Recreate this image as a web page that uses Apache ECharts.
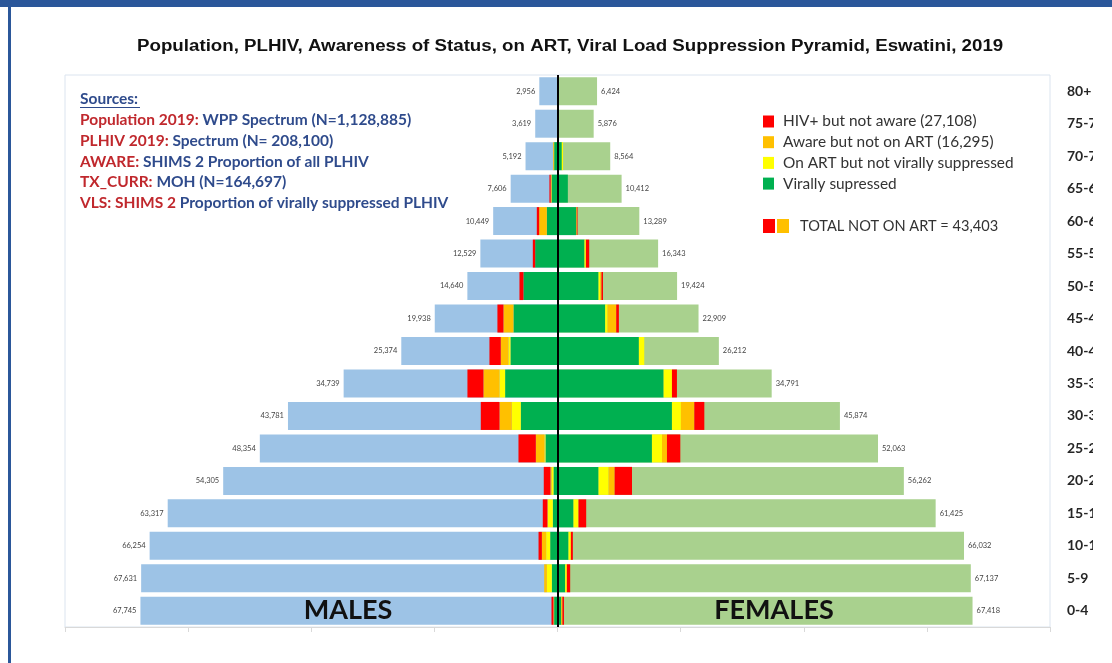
<!DOCTYPE html>
<html>
<head>
<meta charset="utf-8">
<script src="https://cdn.jsdelivr.net/npm/echarts@6/dist/echarts.min.js"></script>
<style>
  html, body { margin: 0; padding: 0; background: #fff; }
  #pyramid { width: 1112px; height: 663px; }
</style>
</head>
<body>
<div id="pyramid"></div>
<script>
// age groups, bottom to top
var ages = ['0-4', '5-9', '10-14', '15-19', '20-24', '25-29', '30-34', '35-39', '40-44',
  '45-49', '50-54', '55-59', '60-64', '65-69', '70-74', '75-79', '80+'];

var malePop = [67745, 67631, 66254, 63317, 54305, 48354, 43781, 34739, 25374, 19938, 14640, 12529, 10449, 7606, 5192, 3619, 2956];
var femalePop = [67418, 67137, 66032, 61425, 56262, 52063, 45874, 34791, 26212, 22909, 19424, 16343, 13289, 10412, 8564, 5876, 6424];

// PLHIV breakdown, centre outwards
var maleVls = [550, 920, 1190, 760, 650, 1950, 5960, 8510, 7640, 7150, 5530, 3630, 1730, 950, 540, 0, 0];
var maleOnArtNotVls = [100, 810, 650, 870, 300, 160, 1460, 920, 325, 0, 0, 0, 0, 0, 0, 0, 0];
var maleAwareNoArt = [0, 430, 700, 0, 200, 1410, 2000, 2600, 1250, 1630, 0, 0, 1250, 160, 160, 0, 0];
var maleNotAware = [325, 0, 540, 760, 1080, 2820, 3040, 2600, 1840, 980, 650, 380, 380, 200, 0, 0, 0];

var femaleVls = [600, 1250, 1790, 2600, 6670, 15340, 18590, 17240, 13220, 7750, 6670, 4390, 3030, 1680, 700, 0, 0];
var femaleOnArtNotVls = [0, 270, 380, 810, 1630, 1630, 1460, 1350, 870, 380, 270, 220, 0, 0, 200, 0, 0];
var femaleAwareNoArt = [200, 0, 0, 0, 980, 810, 2170, 0, 0, 1410, 200, 0, 100, 0, 0, 0, 0];
var femaleNotAware = [250, 540, 325, 1250, 2820, 2170, 1630, 810, 0, 430, 250, 540, 120, 0, 0, 0, 0];

var names = ['HIV+ but not aware (27,108)', 'Aware but not on ART (16,295)',
  'On ART but not virally suppressed', 'Virally supressed'];

var RED = '#ff0000', ORANGE = '#ffc000', YELLOW = '#ffff00', GREEN = '#00b050';
var BLUE_TXT = '#2f4b8c', RED_TXT = '#c0282d';

var myChart = echarts.init(document.getElementById('pyramid'));

function neg(arr) { return arr.map(function (v) { return -v; }); }
function fmt(p) { return Math.abs(p.value).toLocaleString('en-US'); }

function hivBar(name, stack, data, color) {
  return {
    name: name, type: 'bar', stack: stack, data: data,
    barWidth: 28, barGap: '-100%',
    itemStyle: { color: color },
    emphasis: { disabled: true }
  };
}

var sourceLines = [
  ['Population 2019:', ' WPP Spectrum (N=1,128,885)'],
  ['PLHIV 2019:', ' Spectrum (N= 208,100)'],
  ['AWARE:', ' SHIMS 2 Proportion of all PLHIV'],
  ['TX_CURR:', ' MOH (N=164,697)'],
  ['VLS: SHIMS 2', ' Proportion of virally suppressed PLHIV']
];

var graphics = [
  // slide frame
  { type: 'rect', shape: { x: 0, y: 0, width: 1112, height: 7 }, style: { fill: '#2b579a' }, z: 100 },
  { type: 'rect', shape: { x: 8, y: 0, width: 3, height: 663 }, style: { fill: '#2b579a' }, z: 100 },
  { type: 'rect', shape: { x: 1093, y: 7, width: 19, height: 656 }, style: { fill: '#fff' }, z: 99 },
  // title (stretched like the original narrow font)
  {
    type: 'text', x: 137, y: 47, scaleX: 1.17, z: 50,
    style: {
      text: 'Population, PLHIV, Awareness of Status, on ART, Viral Load Suppression Pyramid, Eswatini, 2019',
      fill: '#111', font: 'bold 16px "Liberation Sans"', verticalAlign: 'middle'
    }
  },
  // sources
  { type: 'text', x: 80, y: 99, style: { text: 'Sources:', fill: BLUE_TXT, font: 'bold 15.5px Lato', verticalAlign: 'middle' }, z: 50 },
  { type: 'rect', shape: { x: 80, y: 107, width: 60, height: 1 }, style: { fill: BLUE_TXT }, z: 50 },
  // sex labels
  { type: 'text', x: 348, y: 610, style: { text: 'MALES', fill: '#111', font: 'bold 27px Lato', align: 'center', verticalAlign: 'middle' }, z: 50 },
  { type: 'text', x: 774, y: 610, style: { text: 'FEMALES', fill: '#111', font: 'bold 27px Lato', align: 'center', verticalAlign: 'middle' }, z: 50 },
  // total not on ART
  { type: 'rect', shape: { x: 763, y: 219, width: 12, height: 14 }, style: { fill: RED }, z: 50 },
  { type: 'rect', shape: { x: 777, y: 219, width: 12, height: 14 }, style: { fill: ORANGE }, z: 50 },
  { type: 'text', x: 800, y: 226, style: { text: 'TOTAL NOT ON ART = 43,403', fill: '#333', font: '14.6px Lato', verticalAlign: 'middle' }, z: 50 }
];
sourceLines.forEach(function (l, i) {
  graphics.push({
    type: 'text', x: 80, y: 120 + i * 20.8, z: 50,
    style: {
      text: '{r|' + l[0] + '}{b|' + l[1] + '}', verticalAlign: 'middle',
      rich: {
        r: { fill: RED_TXT, font: 'bold 15.5px Lato' },
        b: { fill: BLUE_TXT, font: 'bold 15.5px Lato' }
      }
    }
  });
});

option = {
  backgroundColor: '#fff',
  animation: false,
  legend: {
    data: names,
    orient: 'vertical', left: 763, top: 113, padding: 0,
    icon: 'rect', itemWidth: 11, itemHeight: 12, itemGap: 3.7,
    selectedMode: false,
    textStyle: { fontFamily: 'Lato', fontSize: 15.4, lineHeight: 17, color: '#333', padding: [0, 0, 0, 4] }
  },
  grid: {
    left: 65, right: 62, top: 75, bottom: 36,
    show: true, borderColor: '#dbe4ef', borderWidth: 1
  },
  xAxis: {
    type: 'value', min: -80000, max: 80000, interval: 20000,
    axisLabel: { show: false },
    axisLine: { show: true, lineStyle: { color: '#d9d9d9' } },
    axisTick: { show: true, length: 5, lineStyle: { color: '#d9d9d9' } },
    splitLine: { show: false }
  },
  yAxis: {
    type: 'category', data: ages, position: 'right',
    axisLine: { show: false }, axisTick: { show: false },
    axisLabel: { margin: 17, align: 'left', fontFamily: 'Lato', fontWeight: 'bold', fontSize: 14, color: '#262626' }
  },
  graphic: graphics,
  series: [
    {
      name: 'Males', type: 'bar', data: neg(malePop), barWidth: 28, barGap: '-100%',
      itemStyle: { color: '#9dc3e6' }, emphasis: { disabled: true },
      label: { show: true, position: 'left', distance: 4, formatter: fmt, fontFamily: 'Lato', fontSize: 7.5, color: '#444' }
    },
    {
      name: 'Females', type: 'bar', data: femalePop, barWidth: 28, barGap: '-100%',
      itemStyle: { color: '#a9d18e' }, emphasis: { disabled: true },
      label: { show: true, position: 'right', distance: 4, formatter: fmt, fontFamily: 'Lato', fontSize: 7.5, color: '#444' }
    },
    hivBar(names[3], 'm', neg(maleVls), GREEN),
    hivBar(names[2], 'm', neg(maleOnArtNotVls), YELLOW),
    hivBar(names[1], 'm', neg(maleAwareNoArt), ORANGE),
    hivBar(names[0], 'm', neg(maleNotAware), RED),
    hivBar(names[3], 'f', femaleVls, GREEN),
    hivBar(names[2], 'f', femaleOnArtNotVls, YELLOW),
    hivBar(names[1], 'f', femaleAwareNoArt, ORANGE),
    {
      name: names[0], type: 'bar', stack: 'f', data: femaleNotAware,
      barWidth: 28, barGap: '-100%',
      itemStyle: { color: RED }, emphasis: { disabled: true },
      markLine: {
        silent: true, symbol: 'none', label: { show: false },
        lineStyle: { color: '#000', width: 2, type: 'solid' },
        data: [{ xAxis: 0 }]
      }
    }
  ]
};
myChart.setOption(option);
</script>
</body>
</html>
